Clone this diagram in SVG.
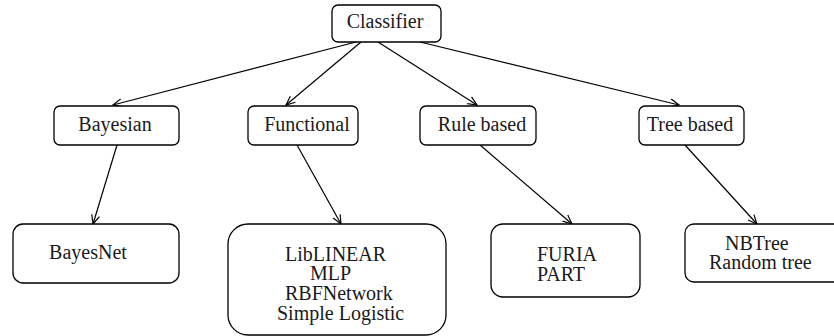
<svg xmlns="http://www.w3.org/2000/svg" width="834" height="336" viewBox="0 0 834 336">
<defs>
<marker id="arr" markerUnits="userSpaceOnUse" markerWidth="12" markerHeight="10" refX="10" refY="5" orient="auto">
<path d="M1,1 L10,5 L1,9" fill="none" stroke="#000" stroke-width="1.2"/>
</marker>
<style>
rect{fill:#fff;stroke:#000;stroke-width:1.3}
text{font-family:"Liberation Serif","Times New Roman",serif;font-size:20px;fill:#1a1a1a}
.c{text-anchor:middle}
#edges line{stroke:#000;stroke-width:1.2;marker-end:url(#arr)}
</style>
</defs>
<rect x="0" y="0" width="834" height="336" style="stroke:none"/>
<g id="edges">
<line x1="356" y1="42" x2="113" y2="105"/>
<line x1="361" y1="42" x2="286" y2="105"/>
<line x1="378" y1="42" x2="477" y2="105"/>
<line x1="420" y1="42" x2="679" y2="105"/>
<line x1="117" y1="145" x2="93" y2="224"/>
<line x1="297" y1="145" x2="341" y2="224"/>
<line x1="480" y1="145" x2="572" y2="224"/>
<line x1="685" y1="145" x2="757" y2="224"/>
</g>
<g id="classifier"><rect x="332" y="5" width="109" height="37" rx="6"/><text class="c" x="385" y="28">Classifier</text></g>
<g id="bayesian"><rect x="54" y="106" width="125" height="39" rx="6"/><text class="c" x="115" y="131">Bayesian</text></g>
<g id="functional"><rect x="248" y="106" width="110" height="39" rx="6"/><text class="c" x="307" y="131">Functional</text></g>
<g id="rulebased"><rect x="420" y="106" width="116" height="39" rx="6"/><text class="c" x="482" y="131">Rule based</text></g>
<g id="treebased"><rect x="639" y="106" width="105" height="39" rx="6"/><text class="c" x="690" y="131">Tree based</text></g>
<g id="bayesnet"><rect x="13" y="224" width="166" height="59" rx="10"/><text class="c" x="88" y="259">BayesNet</text></g>
<g id="functional-list"><rect x="228" y="224" width="218" height="111" rx="20"/>
<text x="285" y="261">LibLINEAR</text>
<text x="310" y="280">MLP</text>
<text x="285" y="300">RBFNetwork</text>
<text x="277" y="320">Simple Logistic</text></g>
<g id="rule-list"><rect x="491" y="224" width="149" height="73" rx="12"/>
<text x="537" y="261">FURIA</text>
<text x="537" y="281">PART</text></g>
<g id="tree-list"><rect x="685" y="224" width="160" height="58" rx="9"/>
<text x="725" y="250">NBTree</text>
<text x="709" y="269">Random tree</text></g>
</svg>
